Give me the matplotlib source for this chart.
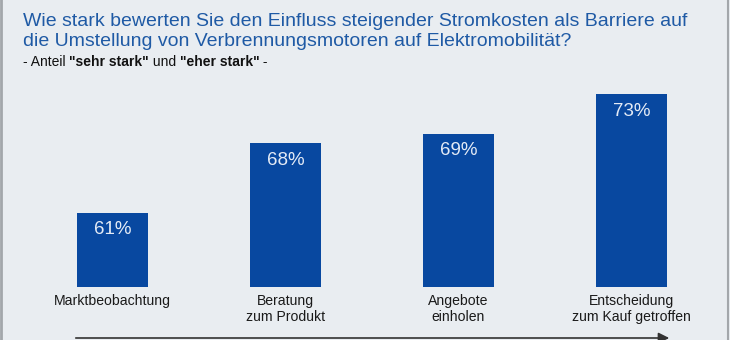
import matplotlib.pyplot as plt
from matplotlib.patches import FancyArrowPatch

categories = ["Marktbeobachtung", "Beratung\nzum Produkt", "Angebote\neinholen",
              "Entscheidung\nzum Kauf getroffen"]
values = [61, 68, 69, 73]
value_labels = ["61%", "68%", "69%", "73%"]

title_lines = ["Wie stark bewerten Sie den Einfluss steigender Stromkosten als Barriere auf",
               "die Umstellung von Verbrennungsmotoren auf Elektromobilität?"]
subtitle_parts = [("- Anteil ", "normal"), ('"sehr stark"', "bold"), (" und ", "normal"),
                  ('"eher stark"', "bold"), (" -", "normal")]

bg = "#e9edf1"
bar_color = "#0848a0"
title_color = "#1f5aa5"

plt.rcParams["font.family"] = ["Liberation Sans", "DejaVu Sans"]

W, H = 730, 340
fig = plt.figure(figsize=(W / 100, H / 100), dpi=100)
fig.patch.set_facecolor(bg)

# bar area: baseline at y=287px, top of tallest bar at y=94px
ax = fig.add_axes([0, (H - 287) / H, 1, (287 - 94) / H])
ax.set_facecolor("none")
x = list(range(len(values)))
ax.bar(x, values, width=0.413, color=bar_color, bottom=0)
ax.set_ylim(53.46, 73)
ax.set_xlim(-112.5 / 173, (W - 112.5) / 173)
for s in ax.spines.values():
    s.set_visible(False)
ax.set_yticks([])
ax.set_xticks(x)
ax.set_xticklabels(categories, fontsize=10.1, color="#1a1a1a", linespacing=1.2)
ax.tick_params(axis="x", length=0, pad=5)

for xi, v, lab in zip(x, values, value_labels):
    ax.annotate(lab, (xi, v), xytext=(0, -17), textcoords="offset pixels",
                ha="center", va="center", color="#e4ebf6", fontsize=13.5)

# title
fig.text(22.7 / W, 1 - 26.5 / H, title_lines[0], color=title_color, fontsize=14,
         va="baseline", ha="left")
fig.text(22.7 / W, 1 - 46 / H, title_lines[1], color=title_color, fontsize=14,
         va="baseline", ha="left")

# subtitle with bold parts
renderer = fig.canvas.get_renderer()
xpos = 22.7
for txt, weight in subtitle_parts:
    t = fig.text(xpos / W, 1 - 65.5 / H, txt, fontsize=10, fontweight=weight,
                 color="#111111", va="baseline", ha="left")
    xpos = t.get_window_extent(renderer).x1

# process arrow along the bottom
arrow = FancyArrowPatch((73 / W, 1 - 338 / H), (672 / W, 1 - 338 / H),
                        transform=fig.transFigure, arrowstyle="-|>", mutation_scale=16,
                        color="#333333", lw=1.2)
fig.patches.append(arrow)

# frame lines at the sides
fig.add_artist(plt.Line2D([1.5 / W, 1.5 / W], [0, 1], color="#a3a7ab", lw=2))
fig.add_artist(plt.Line2D([727.5 / W, 727.5 / W], [0, 1], color="#a3a7ab", lw=1.5))

fig.savefig("out.png", dpi=100, facecolor=bg)
